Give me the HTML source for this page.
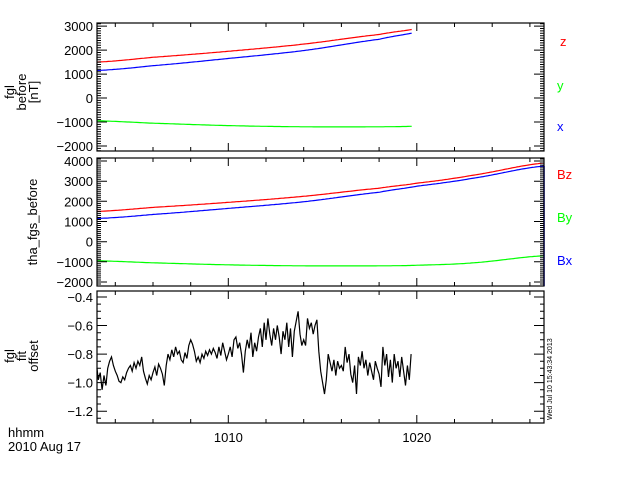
<!DOCTYPE html>
<html><head><meta charset="utf-8"><style>
body{margin:0;background:#fff}
svg{display:block;font-family:"Liberation Sans",sans-serif}
</style></head><body>
<svg id="c" width="640" height="480" xmlns="http://www.w3.org/2000/svg"></svg>
<script>
const timeTicks=[1010,1020];
const tmin=1003.03, tmax=1026.75;
const p1Ticks=[3000,2000,1000,0,-1000,-2000];
const p2Ticks=[4000,3000,2000,1000,0,-1000,-2000];
const p3Ticks=[-0.4,-0.6,-0.8,-1.0,-1.2];
const p3Labels=["-0.4","-0.6","-0.8","-1.0","-1.2"];
const fieldTimes=[1003.03,1006,1010,1014,1018,1020,1023,1026.75];
const fieldZ=[1500,1700,1950,2250,2650,2900,3300,3900];
const fieldX=[1150,1350,1650,1980,2450,2750,3150,3750];
const fieldY=[-950,-1050,-1150,-1200,-1200,-1170,-1050,-700];
const offsetStart=1003.0, offsetStep=0.1;
const offsetVals=[-0.90,-0.98,-0.93,-1.05,-0.95,-1.02,-0.90,-0.85,-0.82,-0.88,
-0.92,-0.95,-0.99,-1.00,-0.96,-0.98,-0.93,-0.90,-0.88,-0.92,
-0.86,-0.90,-0.85,-0.88,-0.82,-0.92,-0.97,-1.01,-0.95,-0.98,
-0.93,-0.89,-0.95,-0.87,-0.90,-0.94,-1.02,-0.88,-0.80,-0.84,
-0.77,-0.82,-0.75,-0.80,-0.78,-0.84,-0.86,-0.79,-0.83,-0.74,
-0.70,-0.73,-0.78,-0.85,-0.82,-0.86,-0.80,-0.83,-0.78,-0.81,
-0.77,-0.80,-0.76,-0.79,-0.83,-0.75,-0.81,-0.72,-0.78,-0.84,
-0.80,-0.75,-0.82,-0.70,-0.68,-0.76,-0.72,-0.80,-0.93,-0.78,
-0.70,-0.76,-0.65,-0.82,-0.72,-0.78,-0.68,-0.62,-0.75,-0.58,
-0.70,-0.55,-0.66,-0.74,-0.62,-0.70,-0.60,-0.68,-0.80,-0.64,
-0.70,-0.58,-0.75,-0.62,-0.82,-0.64,-0.57,-0.50,-0.66,-0.74,
-0.70,-0.74,-0.55,-0.62,-0.58,-0.66,-0.60,-0.56,-0.78,-0.92,
-1.00,-1.08,-0.98,-0.80,-0.86,-0.92,-0.84,-0.95,-0.85,-0.90,
-0.88,-0.92,-0.75,-0.86,-0.80,-0.94,-1.00,-0.88,-1.08,-0.82,
-0.88,-0.78,-0.90,-0.84,-0.95,-0.86,-0.92,-0.98,-0.85,-0.90,
-0.94,-1.03,-0.75,-0.88,-0.80,-0.96,-0.84,-1.00,-0.80,-0.90,
-0.85,-0.96,-0.82,-0.92,-1.02,-0.88,-0.98,-0.80];

const svg=document.getElementById('c');
const NS='http://www.w3.org/2000/svg';
function mk(tag,attrs,parent){const e=document.createElementNS(NS,tag);for(const k in attrs)e.setAttribute(k,attrs[k]);(parent||svg).appendChild(e);return e;}
const L=97,R=544;
const xs=t=>L+(t-tmin)/(tmax-tmin)*(R-L);
const panels=[
 {top:23,bot:151,ymin:-2210,ymax:3130,ticks:p1Ticks,labels:p1Ticks.map(String),minor:100,name:'fgl-before-panel'},
 {top:158,bot:286,ymin:-2200,ymax:4150,ticks:p2Ticks,labels:p2Ticks.map(String),minor:100,name:'fgs-before-panel'},
 {top:291,bot:423,ymin:-1.283,ymax:-0.358,ticks:p3Ticks,labels:p3Labels,minor:0.05,name:'fit-offset-panel'}];
panels.forEach(p=>{p.ys=v=>p.bot-(v-p.ymin)/(p.ymax-p.ymin)*(p.bot-p.top);});

function interp(ts,vs,t){for(let i=0;i<ts.length-1;i++){if(t<=ts[i+1]){const f=(t-ts[i])/(ts[i+1]-ts[i]);
 const p0=vs[Math.max(i-1,0)],p1=vs[i],p2=vs[i+1],p3=vs[Math.min(i+2,vs.length-1)];
 return 0.5*((2*p1)+(-p0+p2)*f+(2*p0-5*p1+4*p2-p3)*f*f+(-p0+3*p1-3*p2+p3)*f*f*f);}}return vs[vs.length-1];}

panels.forEach((p,pi)=>{
 const g=mk('g',{});
 
 
 if(pi<2){
  const tend=pi==0?1019.8:tmax;
  [[fieldZ,'#ff0000','z-series'],[fieldX,'#0000ff','x-series'],[fieldY,'#00ff00','y-series']].forEach(([arr,col,nm])=>{
   let d='';for(let t=tmin;t<=tend+1e-9;t+=0.1){d+=(d?'L':'M')+xs(t).toFixed(1)+','+p.ys(interp(fieldTimes,arr,t)).toFixed(1);}
   const path=mk('path',{d:d,fill:'none',stroke:col,'stroke-width':1.2},g);
   
   
  });
  if(pi==1){const bl=mk('line',{x1:R,x2:R,y1:p.top+8,y2:p.bot,stroke:'#0000ff','stroke-width':1.5},g);
   }
 } else {
  let d='';offsetVals.forEach((v,i)=>{const t=offsetStart+i*offsetStep;d+=(i?'L':'M')+xs(Math.max(t,tmin)).toFixed(1)+','+p.ys(v).toFixed(1);});
  const path=mk('path',{d:d,fill:'none',stroke:'#000','stroke-width':1.2},g);
  
  
 }
 const fr=mk('rect',{x:L,y:p.top,width:R-L,height:p.bot-p.top,fill:'none',stroke:'#000','stroke-width':1.2},g);
 
 let tk='';
 for(let v=Math.ceil(p.ymin/p.minor)*p.minor;v<=p.ymax;v+=p.minor){const y=p.ys(v).toFixed(1);tk+=`M${L},${y}h4M${R},${y}h-4`;}
 p.ticks.forEach(v=>{const y=p.ys(v).toFixed(1);tk+=`M${L},${y}h10M${R},${y}h-10`;});
 for(let t=1004;t<=1026;t+=2){const x=xs(t).toFixed(1);const len=(t%10==0)?8:4;tk+=`M${x},${p.bot}v-${len}M${x},${p.top}v${len}`;}
 const tp=mk('path',{d:tk,stroke:'#000','stroke-width':1,fill:'none'},g);
 
 p.ticks.forEach((v,i)=>{const t=mk('text',{x:L-4,y:p.ys(v)+5,'text-anchor':'end','font-size':13},g);t.textContent=p.labels[i].replace('-','\u2212');
  });
});
timeTicks.forEach(t=>{const e=mk('text',{x:xs(t),y:442,'text-anchor':'middle','font-size':13});e.textContent=t;
 });
function txt(s,x,y,attrs,name){const e=mk('text',Object.assign({x:x,y:y,'font-size':13},attrs||{}));e.textContent=s;return e;}
txt('hhmm',8,437,{},'x-axis-unit');
txt('2010 Aug 17',8,451,{},'date-label');
[['z','#ff0000',560,46],['y','#00ff00',557,90],['x','#0000ff',557,131]].forEach(a=>txt(a[0],a[2],a[3],{fill:a[1]},'legend-'+a[0]));
[['Bz','#ff0000',557,179],['By','#00ff00',557,222],['Bx','#0000ff',557,265]].forEach(a=>txt(a[0],a[2],a[3],{fill:a[1]},'legend-'+a[0].toLowerCase()));
function vlabel(lines,cx,cy,name){const g=mk('g',{transform:`translate(${cx},${cy}) rotate(-90)`});
 lines.forEach((s,i)=>{const e=mk('text',{x:0,y:(i-(lines.length-1)/2)*12+4,'text-anchor':'middle','font-size':13},g);e.textContent=s;});}
vlabel(['fgl','before','[nT]'],22,92,'panel1-y-title');
vlabel(['tha_fgs_before'],33,222,'panel2-y-title');
vlabel(['fgl','fit','offset'],22,356,'panel3-y-title');
const st=mk('text',{transform:'translate(552,420) rotate(-90)','font-size':7});st.textContent='Wed Jul 10 15:43:34 2013';

</script>
</body></html>
